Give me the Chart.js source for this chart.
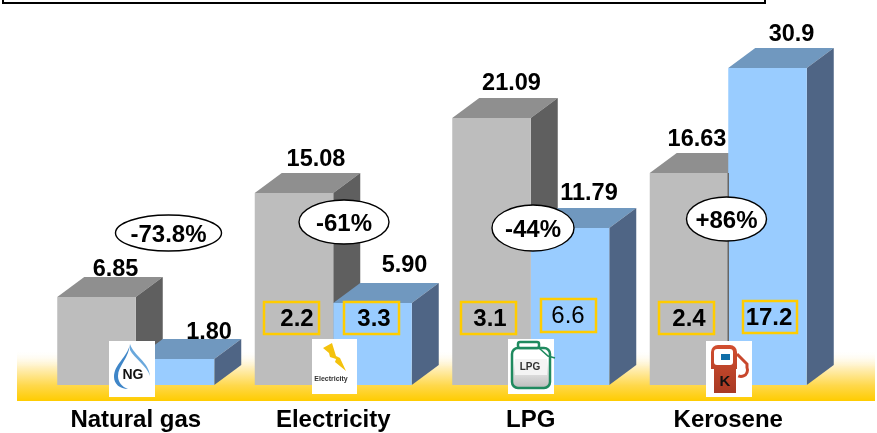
<!DOCTYPE html>
<html>
<head>
<meta charset="utf-8">
<style>
  html, body { margin: 0; padding: 0; background: #fff; }
  canvas { display: block; }
</style>
<script src="https://cdn.jsdelivr.net/npm/chart.js@4"></script>
</head>
<body>
<canvas id="chart" width="877" height="433"></canvas>
<script>
var categories = ['Natural gas', 'Electricity', 'LPG', 'Kerosene'];

// bar heights as drawn in the picture, the printed numbers are not quite to scale with them
var grayHeights = [6.95, 15.16, 21.08, 16.74];
var blueHeights = [2.05, 6.47, 12.39, 25.03];

// numbers printed over the bars
var grayLabels = ['6.85', '15.08', '21.09', '16.63'];
var blueLabels = ['1.80', '5.90', '11.79', '30.9'];

// numbers in the yellow boxes
var grayBoxLabels = [null, '2.2', '3.1', '2.4'];
var blueBoxLabels = [null, '3.3', '6.6', '17.2'];

var changeLabels = ['-73.8%', '-61%', '-44%', '+86%'];

// label placement, offset from the top centre of each bar
var grayLabelOffset = [[19, -27], [22, -33], [20, -34], [8, -33]];
var blueLabelOffset = [[34, -27], [32, -38], [19, -35], [24, -33]];

var ellipses = [[168.5, 233, 53, 18], [344, 222, 45, 22], [533, 228, 41, 23], [726.5, 219, 40, 22]];
var grayBoxes = [null, [264, 302, 55, 32, 297], [461, 302, 55, 32, 490], [659, 302, 55, 32, 689]];
var blueBoxes = [null, [344, 302, 55, 32, 374], [541, 299, 55, 33, 568], [743, 301, 54, 32, 769]];

var FONT = '"Liberation Sans", Arial, sans-serif';
var DX = 27, DY = 20;

function poly(ctx, pts, color) {
  ctx.fillStyle = color;
  ctx.beginPath();
  pts.forEach(function(p, i) {
    if (i == 0) ctx.moveTo(p[0], p[1]);
    else ctx.lineTo(p[0], p[1]);
  });
  ctx.closePath();
  ctx.fill();
}

function text(ctx, str, x, y, size, weight, color) {
  ctx.fillStyle = color || '#000';
  ctx.font = (weight || 'bold') + ' ' + size + 'px ' + FONT;
  ctx.textAlign = 'center';
  ctx.textBaseline = 'middle';
  ctx.fillText(str, x, y);
}

// top and side faces of the bars, the library only gives the front
function drawFaces(ctx, bar, top, side) {
  var l = bar.x - bar.width / 2, r = bar.x + bar.width / 2;
  poly(ctx, [[l, bar.y], [l + DX, bar.y - DY], [r + DX, bar.y - DY], [r, bar.y]], top);
  poly(ctx, [[r, bar.y], [r + DX, bar.y - DY], [r + DX, bar.base - DY], [r, bar.base]], side);
}

var icons = {
  ng: function(ctx) {
    ctx.fillStyle = '#fff';
    ctx.fillRect(109, 341, 46, 56);
    // flame, thick on the left and thin towards the ends
    ctx.fillStyle = '#3f86c8';
    ctx.beginPath();
    ctx.moveTo(130, 344);
    ctx.bezierCurveTo(127, 358, 114, 364, 114, 377);
    ctx.bezierCurveTo(114, 384, 120, 389, 128, 389);
    ctx.bezierCurveTo(122, 387, 118, 382, 118, 376);
    ctx.bezierCurveTo(118, 366, 129, 358, 130, 344);
    ctx.fill();
    ctx.fillStyle = '#6aa8dc';
    ctx.beginPath();
    ctx.moveTo(130, 344);
    ctx.bezierCurveTo(134, 356, 149, 362, 150, 376);
    ctx.bezierCurveTo(147, 366, 134, 358, 130, 350);
    ctx.fill();
    text(ctx, 'NG', 133, 375, 14, 'bold', '#111');
  },
  electricity: function(ctx) {
    ctx.fillStyle = '#fff';
    ctx.fillRect(312, 339, 45, 55);
    poly(ctx, [[323, 348], [332, 343], [336, 356], [340, 358], [346, 371],
      [335, 362], [336, 359], [330, 357], [329, 353]], '#f4c20d');
    text(ctx, 'Electricity', 331, 379, 7, 'bold', '#333');
  },
  lpg: function(ctx) {
    ctx.fillStyle = '#fff';
    ctx.fillRect(508, 339, 46, 55);
    var g = ctx.createLinearGradient(0, 360, 0, 388);
    g.addColorStop(0, '#fff');
    g.addColorStop(1, '#bcbcbc');
    ctx.fillStyle = g;
    ctx.strokeStyle = '#1f8a5f';
    ctx.lineWidth = 2.5;
    ctx.beginPath();
    ctx.roundRect(512, 348, 38, 40, 6);
    ctx.fill();
    ctx.stroke();
    ctx.fillStyle = '#fff';
    ctx.beginPath();
    ctx.roundRect(518, 342, 21, 6, 2);
    ctx.fill();
    ctx.stroke();
    ctx.lineWidth = 1.6;
    ctx.beginPath();
    ctx.moveTo(539, 348);
    ctx.lineTo(548, 356);
    ctx.lineTo(555, 358);
    ctx.stroke();
    ctx.fillStyle = '#f4f4f4';
    ctx.fillRect(515, 359, 32, 16);
    text(ctx, 'LPG', 530, 367, 10, 'bold', '#333');
  },
  kerosene: function(ctx) {
    ctx.fillStyle = '#fff';
    ctx.fillRect(706, 341, 46, 56);
    var g = ctx.createLinearGradient(0, 345, 0, 393);
    g.addColorStop(0, '#d24e2f');
    g.addColorStop(1, '#a83a24');
    ctx.fillStyle = g;
    ctx.beginPath();
    ctx.roundRect(711, 345, 26, 24, [7, 7, 0, 0]);
    ctx.fill();
    ctx.fillRect(714, 368, 22, 25);
    ctx.fillStyle = '#fff';
    ctx.beginPath();
    ctx.roundRect(714, 349, 19, 16, 3);
    ctx.fill();
    ctx.fillStyle = '#0f6ea8';
    ctx.fillRect(721, 354, 9, 6);
    ctx.strokeStyle = '#c8472c';
    ctx.lineWidth = 3;
    ctx.beginPath();
    ctx.moveTo(737, 354);
    ctx.lineTo(747, 364);
    ctx.arc(741, 370, 6.5, -0.4, 2);
    ctx.stroke();
    text(ctx, 'K', 725, 382, 15, 'bold', '#111');
  }
};

var faces3d = {
  id: 'faces3d',
  beforeDraw: function(chart) {
    var ctx = chart.ctx;
    // frame cut off at the top of the picture
    ctx.strokeStyle = '#000';
    ctx.lineWidth = 2;
    ctx.beginPath();
    ctx.moveTo(3, 0);
    ctx.lineTo(3, 3);
    ctx.lineTo(765, 3);
    ctx.lineTo(765, 0);
    ctx.stroke();
    // yellow floor
    var g = ctx.createLinearGradient(0, 350, 0, 401);
    g.addColorStop(0, 'rgba(255,255,255,0)');
    g.addColorStop(0.35, '#ffefba');
    g.addColorStop(0.7, '#ffd84a');
    g.addColorStop(1, '#ffcc00');
    ctx.fillStyle = g;
    ctx.fillRect(17, 350, 858, 51);
  },
  beforeDatasetsDraw: function(chart) {
    var ctx = chart.ctx;
    chart.getDatasetMeta(0).data.forEach(function(bar) {
      drawFaces(ctx, bar, '#8f8f8f', '#5f5f5f');
    });
    chart.getDatasetMeta(1).data.forEach(function(bar) {
      drawFaces(ctx, bar, '#7098bf', '#4f6585');
    });
  },
  afterDatasetsDraw: function(chart) {
    var ctx = chart.ctx;
    var gray = chart.getDatasetMeta(0).data, blue = chart.getDatasetMeta(1).data;

    // thin dark edge between the kerosene bars
    ctx.strokeStyle = '#666';
    ctx.lineWidth = 1.5;
    ctx.beginPath();
    ctx.moveTo(blue[3].x - blue[3].width / 2, gray[3].y);
    ctx.lineTo(blue[3].x - blue[3].width / 2, gray[3].base);
    ctx.stroke();

    categories.forEach(function(c, i) {
      text(ctx, grayLabels[i], gray[i].x + grayLabelOffset[i][0], gray[i].y + grayLabelOffset[i][1], 23.5);
      text(ctx, blueLabels[i], blue[i].x + blueLabelOffset[i][0], blue[i].y + blueLabelOffset[i][1], 23.5);

      [[grayBoxes, grayBoxLabels], [blueBoxes, blueBoxLabels]].forEach(function(set) {
        var b = set[0][i];
        if (!b) return;
        ctx.strokeStyle = '#ffcc00';
        ctx.lineWidth = 2.5;
        ctx.strokeRect(b[0], b[1], b[2], b[3]);
        var weight = set[1][i] == '6.6' ? 'normal' : 'bold';
        text(ctx, set[1][i], b[4], b[1] + b[3] / 2 + 1, 24, weight);
      });

      var e = ellipses[i];
      ctx.beginPath();
      ctx.ellipse(e[0], e[1], e[2], e[3], 0, 0, Math.PI * 2);
      ctx.fillStyle = '#fff';
      ctx.fill();
      ctx.strokeStyle = '#000';
      ctx.lineWidth = 1.4;
      ctx.stroke();
      text(ctx, changeLabels[i], e[0], e[1] + 2, 24);
    });

    icons.ng(ctx);
    icons.electricity(ctx);
    icons.lpg(ctx);
    icons.kerosene(ctx);
  }
};

new Chart(document.getElementById('chart'), {
  type: 'bar',
  data: {
    labels: categories,
    datasets: [
      { data: grayHeights, backgroundColor: '#bdbdbd' },
      { data: blueHeights, backgroundColor: '#99ccff' }
    ]
  },
  options: {
    responsive: false,
    animation: false,
    devicePixelRatio: 1,
    layout: { padding: { left: 37, right: 50, top: 5, bottom: 0 } },
    datasets: { bar: { barPercentage: 1, categoryPercentage: 0.795 } },
    plugins: { legend: { display: false }, tooltip: { enabled: false } },
    scales: {
      x: {
        grid: { display: false },
        border: { display: false },
        afterFit: function(scale) { scale.height = 48; },
        ticks: {
          color: '#000',
          padding: 13,
          maxRotation: 0,
          font: { family: FONT, size: 24, weight: 'bold' }
        }
      },
      y: { display: false, min: 0, max: 30 }
    }
  },
  plugins: [faces3d]
});
</script>
</body>
</html>
